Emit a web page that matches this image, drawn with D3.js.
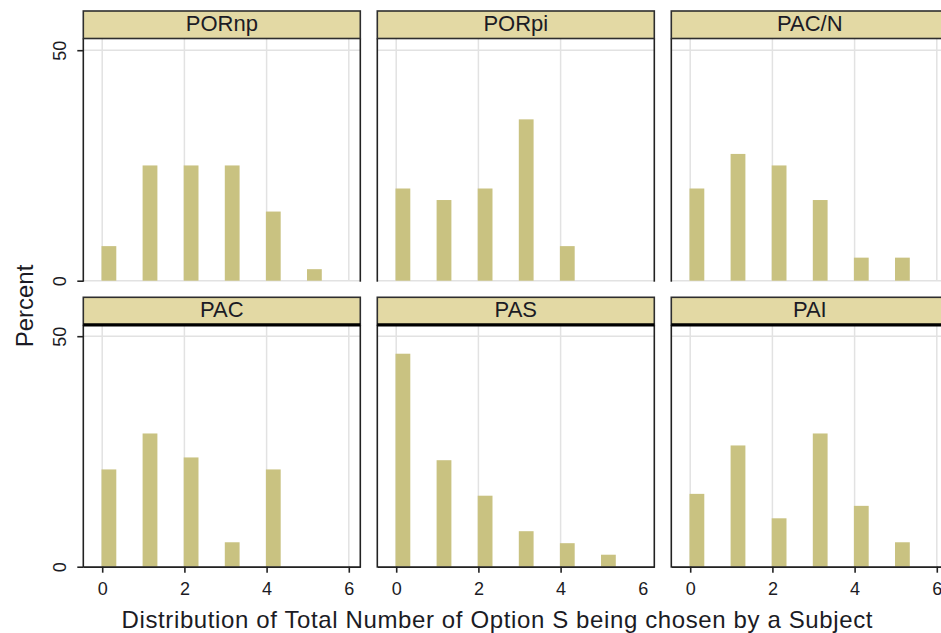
<!DOCTYPE html>
<html>
<head>
<meta charset="utf-8">
<script src="https://cdn.jsdelivr.net/npm/d3@7"></script>
<style>
  body { margin: 0; background: #fff; }
  text { font-family: "Liberation Sans", Arial, sans-serif; fill: #1b1b24; }
</style>
</head>
<body>
<div id="chart"></div>
<script>
(function() {
  // data (percent of subjects per count)
  var panelNames = ["PORnp", "PORpi", "PAC/N", "PAC", "PAS", "PAI"]
  var counts = [0, 1, 2, 3, 4, 5]
  var pornp = [7.5, 25, 25, 25, 15, 2.5]
  var porpi = [20, 17.5, 20, 35, 7.5, 0]
  var pacn = [20, 27.5, 25, 17.5, 5, 5]
  var pac = [21.1, 28.9, 23.7, 5.3, 21.1, 0]
  var pas = [46.2, 23.1, 15.4, 7.7, 5.1, 2.6]
  var pai = [15.8, 26.3, 10.5, 28.9, 13.2, 5.3]
  var xTicks = [0, 2, 4, 6]
  var yTicks = [0, 50]
  var xTitle = "Distribution of Total Number of Option S being chosen by a Subject"
  var yTitle = "Percent"

  var series = [pornp, porpi, pacn, pac, pas, pai]

  var width = 941, height = 633
  var colLeft = [83.3, 377.3, 671.3]
  var panelW = 277
  var stripTop = [11, 297.3]
  var stripH = 27.5
  var plotBottom = [280.7, 566.7]
  var yPx50 = 230.5

  var svg = d3.select("#chart").append("svg")
      .attr("width", width)
      .attr("height", height)

  panelNames.forEach(function(name, i) {
    var row = Math.floor(i / 3), col = i % 3
    var left = colLeft[col]
    var top = stripTop[row] + stripH
    var bottom = plotBottom[row]

    var xScale = d3.scaleLinear().domain([-0.46, 6.28]).range([left, left + panelW])
    var yScale = d3.scaleLinear().domain([0, 50]).range([bottom, bottom - yPx50])

    var g = svg.append("g").attr("class", "panel")

    // grid
    var gridX = col === 1 ? xTicks.filter(function(t) { return t !== 6 }) : xTicks
    g.selectAll(".vgrid")
      .data(gridX)
      .enter().append("line")
      .attr("x1", d => xScale(d)).attr("x2", d => xScale(d))
      .attr("y1", top).attr("y2", bottom)
      .attr("stroke", "#e2e2e2").attr("stroke-width", 1.5)
    g.selectAll(".hgrid")
      .data(yTicks)
      .enter().append("line")
      .attr("x1", left).attr("x2", left + panelW)
      .attr("y1", d => yScale(d)).attr("y2", d => yScale(d))
      .attr("stroke", "#e2e2e2").attr("stroke-width", 1.5)

    // bars
    g.selectAll(".bar")
      .data(counts.filter(function(c) { return series[i][c] > 0 }))
      .enter().append("rect")
      .attr("class", "bar")
      .attr("x", d => xScale(d) - 0.7)
      .attr("width", xScale(0.36) - xScale(0))
      .attr("y", d => yScale(series[i][d]))
      .attr("height", d => yScale(0) - yScale(series[i][d]))
      .attr("fill", "#c9c281")

    // left / right borders
    g.selectAll(".border")
      .data([left, left + panelW])
      .enter().append("line")
      .attr("x1", d => d).attr("x2", d => d)
      .attr("y1", top).attr("y2", bottom + 1)
      .attr("stroke", "#222").attr("stroke-width", 1.6)

    // strip
    g.append("rect")
      .attr("x", left).attr("y", stripTop[row])
      .attr("width", panelW).attr("height", stripH)
      .attr("fill", "#e3d9a4")
      .attr("stroke", "#2e2e2e").attr("stroke-width", 1.6)
    if (row === 1) {
      g.append("line")
        .attr("x1", left).attr("x2", left + panelW)
        .attr("y1", top).attr("y2", top)
        .attr("stroke", "#000").attr("stroke-width", 3.2)
    }
    g.append("text")
      .attr("x", left + panelW / 2)
      .attr("y", stripTop[row] + 19.5)
      .attr("text-anchor", "middle")
      .attr("font-size", 22)
      .text(name)

    // y axis on first column
    if (col === 0) {
      var yAxis = d3.axisLeft(yScale).tickValues(yTicks).tickFormat(d3.format("d"))
        .tickSize(6).tickSizeOuter(0)
      var ya = g.append("g")
        .attr("class", "axis y-axis")
        .attr("transform", "translate(" + left + ",0)")
        .call(yAxis)
      ya.select(".domain").remove()
      ya.selectAll("line").attr("stroke", "#222").attr("stroke-width", 1.6)
      ya.selectAll("text")
        .attr("transform", "rotate(-90)")
        .attr("text-anchor", "middle")
        .attr("x", 0).attr("y", -17).attr("dy", 0)
        .attr("font-size", 18)
        .attr("fill", "#1b1b24")
    }

    // x axis on bottom row
    if (row === 1) {
      var xAxis = d3.axisBottom(xScale).tickValues(xTicks).tickFormat(d3.format("d"))
        .tickSize(6).tickSizeOuter(0).tickPadding(10)
      var xa = g.append("g")
        .attr("class", "axis x-axis")
        .attr("transform", "translate(0," + bottom + ")")
        .call(xAxis)
      xa.select(".domain").attr("stroke", "#222").attr("stroke-width", 1.8)
      xa.selectAll("line").attr("stroke", "#222").attr("stroke-width", 1.6)
      xa.selectAll("text").attr("font-size", 18).attr("fill", "#1b1b24")
      if (col === 1) {
        xa.selectAll(".tick").filter(d => d === 6).select("line").remove()
      }
    }
  })

  // titles
  svg.append("text")
    .attr("x", 497)
    .attr("y", 628)
    .attr("text-anchor", "middle")
    .attr("font-size", 24)
    .attr("textLength", 751)
    .attr("lengthAdjust", "spacing")
    .text(xTitle)

  svg.append("text")
    .attr("transform", "translate(33,306) rotate(-90)")
    .attr("text-anchor", "middle")
    .attr("font-size", 24)
    .text(yTitle)
})()
</script>
</body>
</html>
